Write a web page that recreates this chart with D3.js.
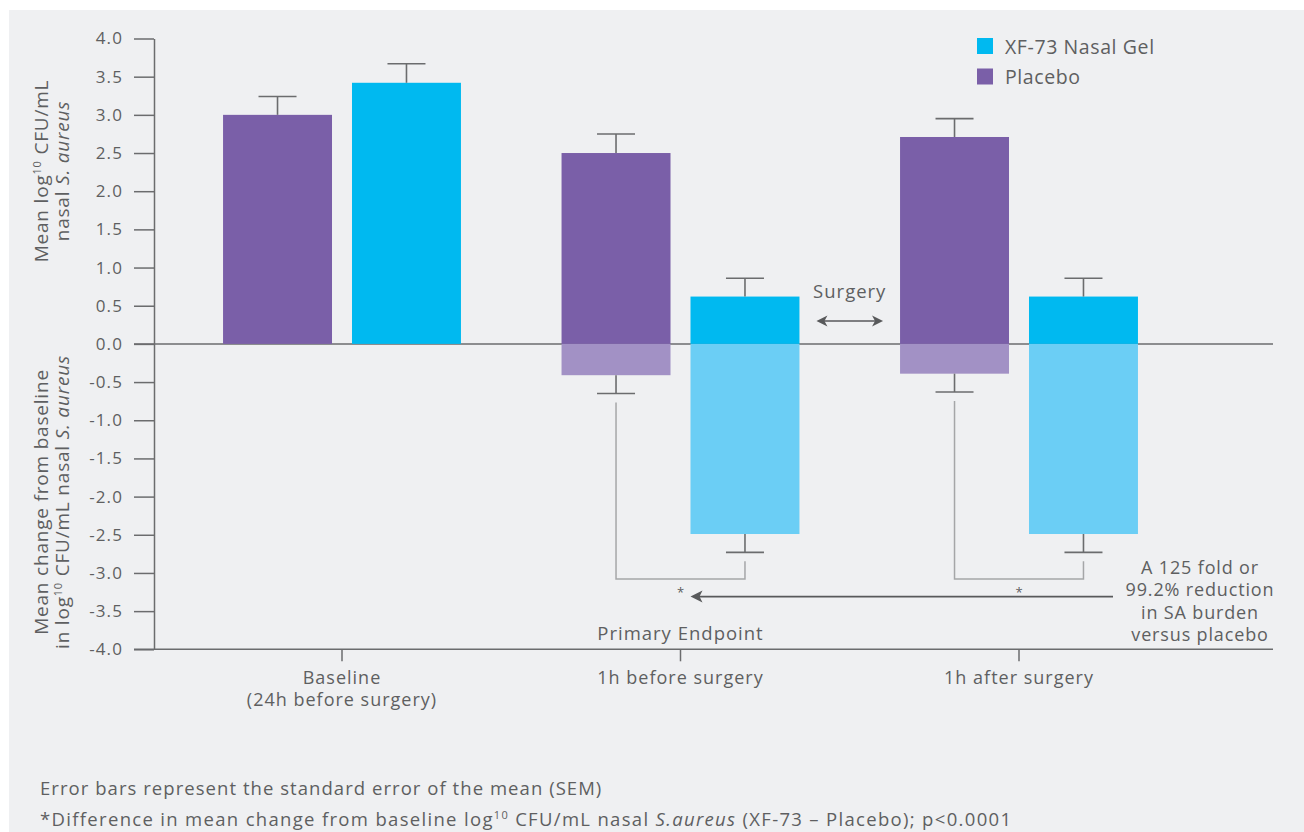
<!DOCTYPE html>
<html>
<head>
<meta charset="utf-8">
<script src="https://cdn.jsdelivr.net/npm/d3@7"></script>
<style>
  html, body { margin: 0; padding: 0; background: #ffffff; }
  svg { display: block; }
  text { font-family: "Open Sans", "Liberation Sans", sans-serif; fill: #5e5f61; letter-spacing: 1px; }
</style>
</head>
<body>
<script>
// ---------------- DATA ----------------
const categories = ["Baseline", "1h before surgery", "1h after surgery"];
const categorySubLabels = ["(24h before surgery)", "", ""];
const seriesNames = ["Placebo", "XF-73 Nasal Gel"];
const legendOrder = ["XF-73 Nasal Gel", "Placebo"];

// Mean log10 CFU/mL nasal S. aureus (upper panel)
const placeboMean = [3.00, 2.50, 2.71];
const placeboSem = [0.24, 0.25, 0.24];
const xf73Mean = [3.42, 0.62, 0.62];
const xf73Sem = [0.25, 0.24, 0.24];

// Mean change from baseline (lower panel)
const placeboChange = [null, -0.41, -0.39];
const placeboChangeSem = [null, 0.24, 0.24];
const xf73Change = [null, -2.49, -2.49];
const xf73ChangeSem = [null, 0.24, 0.24];

const yTicks = [4.0, 3.5, 3.0, 2.5, 2.0, 1.5, 1.0, 0.5, 0.0, -0.5, -1.0, -1.5, -2.0, -2.5, -3.0, -3.5, -4.0];
const yTickLabels = ["4.0", "3.5", "3.0", "2.5", "2.0", "1.5", "1.0", "0.5", "0.0", "-0.5", "-1.0", "-1.5", "-2.0", "-2.5", "-3.0", "-3.5", "-4.0"];

const annotationLines = ["A 125 fold or", "99.2% reduction", "in SA burden", "versus placebo"];
const footnote1 = "Error bars represent the standard error of the mean (SEM)";

// ---------------- STYLE ----------------
const W = 1304, H = 832;
const colors = {
  "Placebo": "#7a5fa8",
  "XF-73 Nasal Gel": "#00b9f0"
};
const lightColors = {
  "Placebo": "#a291c5",
  "XF-73 Nasal Gel": "#6bcef5"
};
const axisColor = "#6b6c6e";
const bracketColor = "#a5a6a8";

// ---------------- BUILD ----------------
const rows = categories.map((c, i) => ({
  cat: c,
  values: [
    { s: "Placebo", mean: placeboMean[i], sem: placeboSem[i], change: placeboChange[i], changeSem: placeboChangeSem[i] },
    { s: "XF-73 Nasal Gel", mean: xf73Mean[i], sem: xf73Sem[i], change: xf73Change[i], changeSem: xf73ChangeSem[i] }
  ]
}));

const svg = d3.select("body").append("svg").attr("width", W).attr("height", H);

svg.append("rect").attr("x", 9).attr("y", 10).attr("width", W - 9).attr("height", H - 10).attr("fill", "#eff0f2");

const y = d3.scaleLinear().domain([-4, 4]).range([649.3, 38.5]);
const x = d3.scaleBand().domain(categories).range([172.75, 1188.25]).paddingInner(0).paddingOuter(0);
const xi = d3.scaleBand().domain(seriesNames).range([0, x.bandwidth()]).paddingInner(0.155).paddingOuter(0.39);

const axisLeftX = 154;
const plotRight = 1273;

// zero line
svg.append("line")
  .attr("x1", 134).attr("x2", plotRight)
  .attr("y1", y(0)).attr("y2", y(0))
  .attr("stroke", axisColor).attr("stroke-width", 1.5);

// bottom line
svg.append("line")
  .attr("x1", 134).attr("x2", plotRight)
  .attr("y1", y(-4)).attr("y2", y(-4))
  .attr("stroke", axisColor).attr("stroke-width", 1.5);

// Y axis
const yAxis = d3.axisLeft(y)
  .tickValues(yTicks)
  .tickFormat((d, i) => yTickLabels[i])
  .tickSize(20)
  .tickSizeOuter(0)
  .tickPadding(11);
const gy = svg.append("g").attr("transform", `translate(${axisLeftX},0)`).call(yAxis);
gy.select(".domain").attr("stroke", axisColor).attr("stroke-width", 1.5);
gy.selectAll(".tick line").attr("stroke", axisColor).attr("stroke-width", 1.5);
gy.selectAll(".tick text")
  .attr("font-family", "Open Sans")
  .attr("font-size", 17)
  .style("letter-spacing", "1.1px")
  .attr("fill", "#5e5f61");

// X axis
const xAxis = d3.axisBottom(x).tickSize(12).tickSizeOuter(0).tickPadding(9);
const gx = svg.append("g").attr("transform", `translate(0,${y(-4)})`).call(xAxis);
gx.select(".domain").remove();
gx.selectAll(".tick line").attr("stroke", axisColor).attr("stroke-width", 1.5);
gx.selectAll(".tick text").remove();
gx.selectAll(".tick").each(function (d, i) {
  const t = d3.select(this).append("text")
    .attr("text-anchor", "middle")
    .attr("font-family", "Open Sans")
    .attr("font-size", 18)
    .attr("fill", "#5e5f61")
    .attr("y", 35);
  t.append("tspan").attr("x", 0).text(categories[i]);
  if (categorySubLabels[i]) {
    t.append("tspan").attr("x", 0).attr("dy", 22).text(categorySubLabels[i]);
  }
});

// Bars
const groups = svg.append("g").selectAll("g.grp").data(rows).join("g")
  .attr("class", "grp")
  .attr("transform", d => `translate(${x(d.cat)},0)`);

// change bars (lower, lighter)
groups.selectAll("rect.chg").data(d => d.values.filter(v => v.change !== null)).join("rect")
  .attr("class", "chg")
  .attr("x", v => xi(v.s))
  .attr("width", xi.bandwidth())
  .attr("y", y(0))
  .attr("height", v => y(v.change) - y(0))
  .attr("fill", v => lightColors[v.s]);

// mean bars
groups.selectAll("rect.mean").data(d => d.values).join("rect")
  .attr("class", "mean")
  .attr("x", v => xi(v.s))
  .attr("width", xi.bandwidth())
  .attr("y", v => y(v.mean))
  .attr("height", v => y(0) - y(v.mean))
  .attr("fill", v => colors[v.s]);

const capW = 38;
const errColor = "#6b6c6e";

// error bars
groups.each(function (d) {
  const g = d3.select(this);
  d.values.forEach(v => {
    const cx = xi(v.s) + xi.bandwidth() / 2;
    g.append("line").attr("x1", cx).attr("x2", cx)
      .attr("y1", y(v.mean)).attr("y2", y(v.mean + v.sem))
      .attr("stroke", errColor).attr("stroke-width", 1.6);
    g.append("line").attr("x1", cx - capW / 2).attr("x2", cx + capW / 2)
      .attr("y1", y(v.mean + v.sem)).attr("y2", y(v.mean + v.sem))
      .attr("stroke", errColor).attr("stroke-width", 1.6);
    if (v.change !== null) {
      g.append("line").attr("x1", cx).attr("x2", cx)
        .attr("y1", y(v.change)).attr("y2", y(v.change - v.changeSem))
        .attr("stroke", errColor).attr("stroke-width", 1.6);
      g.append("line").attr("x1", cx - capW / 2).attr("x2", cx + capW / 2)
        .attr("y1", y(v.change - v.changeSem)).attr("y2", y(v.change - v.changeSem))
        .attr("stroke", errColor).attr("stroke-width", 1.6);
    }
  });
});

// Brackets with asterisks
const bracketBottom = y(-3.08);
const starXs = [];
rows.forEach(r => {
  const p = r.values[0], q = r.values[1];
  if (p.change === null) return;
  const x1 = x(r.cat) + xi(p.s) + xi.bandwidth() / 2;
  const x2 = x(r.cat) + xi(q.s) + xi.bandwidth() / 2;
  const y1 = y(p.change - p.changeSem) + 9;
  const y2 = y(q.change - q.changeSem) + 9;
  svg.append("path")
    .attr("d", `M${x1},${y1} V${bracketBottom} H${x2} V${y2}`)
    .attr("fill", "none").attr("stroke", bracketColor).attr("stroke-width", 1.5);
  const sx = (x1 + x2) / 2;
  starXs.push(sx);
  svg.append("text").attr("x", sx).attr("y", bracketBottom + 18)
    .attr("text-anchor", "middle").attr("font-size", 13).style("letter-spacing", "0px").text("*");
});

// Left-pointing arrow
const arrowY = y(-3.31);
const arrowTip = starXs[0] + 10;
const arrowEnd = 1113;
svg.append("line").attr("x1", arrowTip + 6).attr("x2", arrowEnd)
  .attr("y1", arrowY).attr("y2", arrowY)
  .attr("stroke", "#58595b").attr("stroke-width", 1.6);
svg.append("path")
  .attr("d", `M${arrowTip},${arrowY} L${arrowTip + 12},${arrowY - 6} L${arrowTip + 9},${arrowY} L${arrowTip + 12},${arrowY + 6} Z`)
  .attr("fill", "#58595b");

// Annotation text block
const annX = 1200;
const annT = svg.append("text").attr("text-anchor", "middle").attr("font-size", 18).style("letter-spacing", "0.85px").attr("y", 574);
annotationLines.forEach((l, i) => {
  annT.append("tspan").attr("x", annX).attr("dy", i === 0 ? 0 : 22.4).text(l);
});

// Primary Endpoint
svg.append("text")
  .attr("x", x(categories[1]) + x.bandwidth() / 2)
  .attr("y", 640)
  .attr("text-anchor", "middle").attr("font-size", 18.5)
  .text("Primary Endpoint");

// Surgery double arrow
const sgL = x(categories[1]) + xi("XF-73 Nasal Gel") + xi.bandwidth() + 17;
const sgR = x(categories[2]) + xi("Placebo") - 17;
const sgMid = (sgL + sgR) / 2;
const sgY = y(0.30);
svg.append("text").attr("x", sgMid).attr("y", 298).attr("text-anchor", "middle")
  .attr("font-size", 18.5).text("Surgery");
svg.append("line").attr("x1", sgL + 6).attr("x2", sgR - 6).attr("y1", sgY).attr("y2", sgY)
  .attr("stroke", "#58595b").attr("stroke-width", 1.6);
svg.append("path")
  .attr("d", `M${sgL},${sgY} L${sgL + 11},${sgY - 5.5} L${sgL + 8},${sgY} L${sgL + 11},${sgY + 5.5} Z`)
  .attr("fill", "#58595b");
svg.append("path")
  .attr("d", `M${sgR},${sgY} L${sgR - 11},${sgY - 5.5} L${sgR - 8},${sgY} L${sgR - 11},${sgY + 5.5} Z`)
  .attr("fill", "#58595b");

// Legend
const legend = svg.append("g").attr("transform", "translate(977,38)");
legendOrder.forEach((s, i) => {
  legend.append("rect").attr("x", 0).attr("y", i * 30.5).attr("width", 16).attr("height", 16).attr("fill", colors[s]);
  legend.append("text").attr("x", 28).attr("y", i * 30.5 + 15.5).attr("font-size", 19.5).style("letter-spacing", "0.6px").text(s);
});

// Y axis titles
function axisTitle(cx, cy, lines) {
  const t = svg.append("text")
    .attr("transform", `translate(${cx},${cy}) rotate(-90)`)
    .attr("text-anchor", "middle").attr("font-size", 19).style("letter-spacing", "0.8px");
  lines.forEach((parts, li) => {
    parts.forEach(p => {
      const ts = t.append("tspan");
      if (p.first) ts.attr("x", 0).attr("y", li * 21);
      if (p.sup) {
        ts.attr("font-size", 11).attr("dy", -7).text(p.t);
      } else if (p.afterSup) {
        ts.attr("dy", 7).text(p.t);
      } else {
        ts.text(p.t);
      }
      if (p.italic) ts.attr("font-style", "italic");
    });
  });
}
axisTitle(48, 171, [
  [{ t: "Mean log", first: true }, { t: "10", sup: true }, { t: " CFU/mL", afterSup: true }],
  [{ t: "nasal ", first: true }, { t: "S. aureus", italic: true }]
]);
axisTitle(48, 502, [
  [{ t: "Mean change from baseline", first: true }],
  [{ t: "in log", first: true }, { t: "10", sup: true }, { t: " CFU/mL nasal ", afterSup: true }, { t: "S. aureus", italic: true }]
]);

// Footnotes
svg.append("text").attr("x", 40).attr("y", 795).attr("font-size", 18.5).style("letter-spacing", "1.05px").text(footnote1);
const fn2 = svg.append("text").attr("x", 40).attr("y", 826).attr("font-size", 18.5).style("letter-spacing", "1.32px");
fn2.append("tspan").text("*Difference in mean change from baseline log");
fn2.append("tspan").attr("font-size", 11).attr("dy", -7).text("10");
fn2.append("tspan").attr("dy", 7).text(" CFU/mL nasal ");
fn2.append("tspan").attr("font-style", "italic").text("S.aureus");
fn2.append("tspan").text(" (XF-73 \u2013 Placebo); p<0.0001");
</script>
</body>
</html>
